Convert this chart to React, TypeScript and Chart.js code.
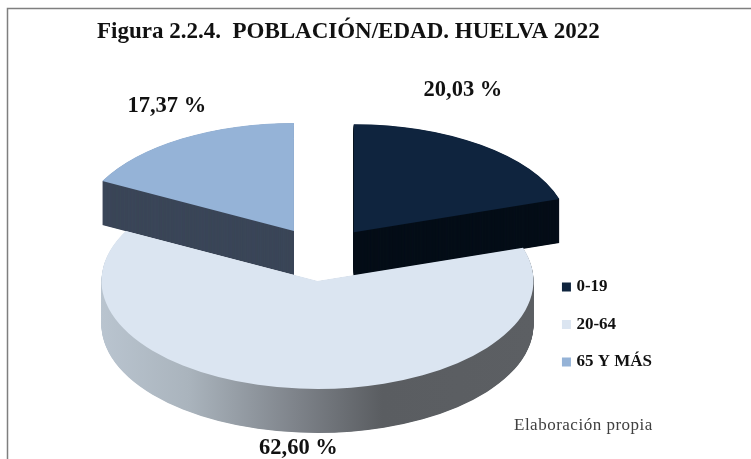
import { useEffect, useRef } from "react";
import { Chart, registerables } from "chart.js";

Chart.register(...registerables);

const TITLE = "Figura 2.2.4.  POBLACIÓN/EDAD. HUELVA 2022";
const SOURCE = "Elaboración propia";
const categories = ["0-19", "20-64", "65 Y MÁS"];
const shares = [20.03, 62.6, 17.37];
const topColours = ["#0f243e", "#dbe5f1", "#95b3d7"];
const wallColours = ["#050e18", "#6b7075", "#3b4658"];
const drawOrder = [0, 2, 1];
const labelNudges = [
  [-18, -55],
  [-1, 60],
  [-15, -32],
];

const SQUASH = 0.5;
const RADIUS = 216;
const EXPLODE = 54;
const DEPTH = 44;
const CENTRE = { x: 322, y: 254 };
const SERIF = "'Liberation Serif', 'DejaVu Serif', serif";

const pie3d = {
  id: "pie3d",
  beforeDraw(chart: any) {
    const { ctx, width, height } = chart;
    ctx.save();
    ctx.fillStyle = "#ffffff";
    ctx.fillRect(0, 0, width, height);
    ctx.strokeStyle = "#7f7f7f";
    ctx.lineWidth = 1.5;
    ctx.beginPath();
    ctx.moveTo(7.5, height);
    ctx.lineTo(7.5, 8.5);
    ctx.lineTo(width, 8.5);
    ctx.stroke();
    ctx.restore();
  },
  beforeDatasetsDraw(chart: any) {
    const { ctx } = chart;
    const arcs = chart.getDatasetMeta(0).data;
    drawOrder.forEach((i: number) => {
      const arc = arcs[i];
      const mid = (arc.startAngle + arc.endAngle) / 2;
      const dx = CENTRE.x - arc.x + Math.cos(mid) * EXPLODE;
      const dy = CENTRE.y - arc.y + Math.sin(mid) * EXPLODE * SQUASH;
      const paint = (lift: number, fill: any) => {
        const ghost = Object.create(arc);
        ghost.options = { ...arc.options, backgroundColor: fill };
        ctx.save();
        ctx.translate(dx + arc.x, dy + arc.y + lift);
        ctx.scale(1, SQUASH);
        ctx.translate(-arc.x, -arc.y);
        ghost.draw(ctx);
        ctx.restore();
      };
      let wall: any = wallColours[i];
      if (i === 1) {
        const left = arc.x - arc.outerRadius;
        const g = ctx.createLinearGradient(left, 0, left + 2 * arc.outerRadius, 0);
        g.addColorStop(0, "#b9c4cf");
        g.addColorStop(0.2, "#aab4bd");
        g.addColorStop(0.45, "#7e838a");
        g.addColorStop(0.65, "#5a5d61");
        g.addColorStop(1, "#5c5f63");
        wall = g;
      }
      for (let lift = DEPTH; lift > 0; lift -= 0.5) paint(lift, wall);
      paint(0, topColours[i]);
    });
    return false;
  },
  afterDraw(chart: any) {
    const { ctx, height } = chart;
    const arcs = chart.getDatasetMeta(0).data;
    ctx.save();
    ctx.textAlign = "center";
    ctx.textBaseline = "middle";
    ctx.fillStyle = "#111111";
    ctx.font = `bold 22.5px ${SERIF}`;
    arcs.forEach((arc: any, i: number) => {
      const mid = (arc.startAngle + arc.endAngle) / 2;
      const x = CENTRE.x + Math.cos(mid) * (EXPLODE + RADIUS) + labelNudges[i][0];
      const y =
        CENTRE.y + Math.sin(mid) * (EXPLODE + RADIUS) * SQUASH + labelNudges[i][1];
      const text = shares[i].toFixed(2).replace(".", ",") + " %";
      ctx.fillText(text, x, y);
    });
    ctx.textAlign = "left";
    ctx.fillStyle = "#404040";
    ctx.font = `17px ${SERIF}`;
    ctx.letterSpacing = "0.5px";
    ctx.fillText(SOURCE, 514, height - 33);
    ctx.restore();
  },
};

export default function App() {
  const ref = useRef<HTMLCanvasElement>(null);
  useEffect(() => {
    document.body.style.margin = "0";
    const baseLabels = (Chart as any).overrides.pie.plugins.legend.labels.generateLabels;
    const chart = new Chart(ref.current as HTMLCanvasElement, {
      type: "pie",
      data: {
        labels: categories,
        datasets: [
          {
            data: shares,
            backgroundColor: topColours,
            borderWidth: 0,
          },
        ],
      },
      options: {
        responsive: false,
        animation: false,
        radius: RADIUS,
        layout: { padding: { left: 97, right: 89, top: 0, bottom: 68 } },
        plugins: {
          tooltip: { enabled: false },
          title: {
            display: true,
            text: TITLE,
            align: "start",
            color: "#111111",
            font: { family: SERIF, size: 23, weight: "bold" },
            padding: { top: 18, bottom: 10 },
          },
          legend: {
            position: "right",
            align: "end",
            labels: {
              boxWidth: 3,
              boxHeight: 3,
              padding: 20.5,
              color: "#111111",
              font: { family: SERIF, size: 17, weight: "bold" },
              generateLabels: (c: any) =>
                baseLabels(c).map((item: any) => ({
                  ...item,
                  strokeStyle: item.fillStyle,
                  lineWidth: 6,
                  lineJoin: "miter",
                })),
            },
          },
        },
      } as any,
      plugins: [pie3d],
    });
    return () => chart.destroy();
  }, []);
  return <canvas ref={ref} width={751} height={459} style={{ display: "block" }} />;
}
